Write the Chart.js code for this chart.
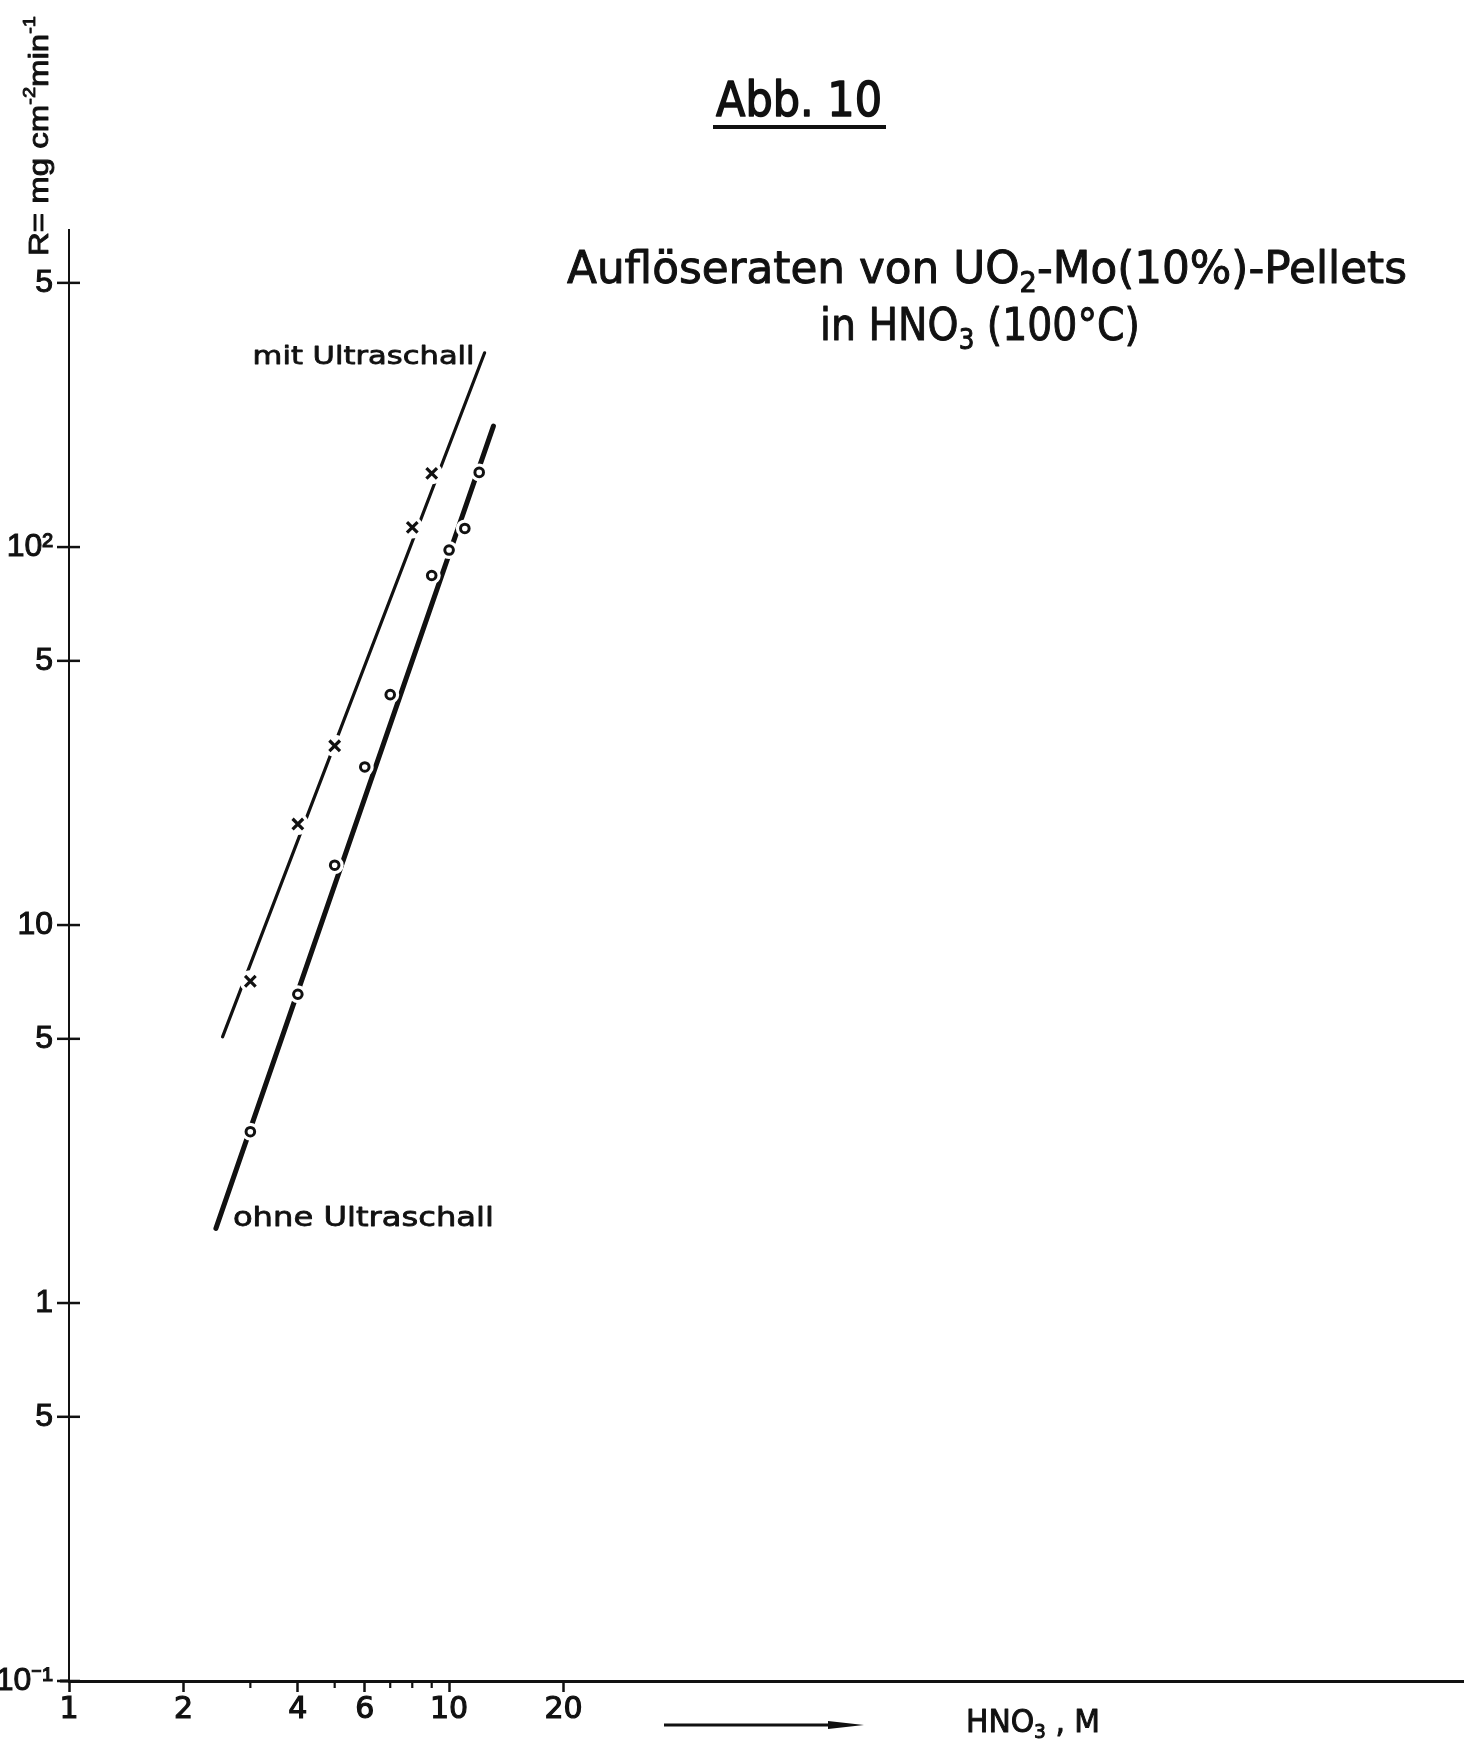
<!DOCTYPE html>
<html>
<head>
<meta charset="utf-8">
<script src="https://cdn.jsdelivr.net/npm/chart.js@4.4.1/dist/chart.umd.min.js"></script>
<style>
  html, body { margin: 0; padding: 0; background: #fff; }
  #wrap { width: 1474px; height: 1740px; position: relative; }
</style>
</head>
<body>
<div id="wrap"><canvas id="c"></canvas></div>
<script>
// Dissolution rate R (mg cm^-2 min^-1) against HNO3 concentration (M)
const mitX = [3, 4, 5, 8, 9];
const mitR = [7.1, 18.5, 29.8, 112.7, 156.7];
const ohneX = [3, 4, 5, 6, 7, 9, 10, 11, 12];
const ohneR = [2.84, 6.56, 14.4, 26.2, 40.7, 84.1, 98.2, 112, 157.6];

// straight fit lines on log-log paper: start and end point
const mitFitX = [2.535, 12.4];
const mitFitR = [5.06, 326.6];
const ohneFitX = [2.435, 13.08];
const ohneFitR = [1.576, 208.9];

// axis ticks
const xTickValues = [1, 2, 4, 6, 10, 20];
const xTickLabels = ['1', '2', '4', '6', '10', '20'];
const xMinorTicks = [3, 5, 7, 8, 9];
const yTickValues = [0.1, 0.5, 1, 5, 10, 50, 100, 500];
const yTickLabels = ['10⁻¹', '5', '1', '5', '10', '5', '10²', '5'];

// texts
const figTitle = 'Abb. 10';
const subLine1 = [['Auflöseraten von UO', 0], ['2', -1], ['-Mo(10%)-Pellets', 0]];
const subLine2 = [['in HNO', 0], ['3', -1], [' (100°C)', 0]];
const yTitle = [['R= mg cm', 0], ['-2', 1], ['min', 0], ['-1', 1]];
const xTitle = [['HNO', 0], ['3', -1], [' , M', 0]];
const mitLabel = 'mit Ultraschall';
const ohneLabel = 'ohne Ultraschall';

const INK = '#111';
const pts = (xs, ys) => xs.map((x, i) => ({ x: x, y: ys[i] }));

// draws a run of text pieces (normal / superscript / subscript), squeezed to a given width
function drawParts(ctx, parts, x, y, o) {
  const size = o.size, fam = o.family, weight = o.weight || 'normal';
  const fontFor = k => `${weight} ${k ? Math.round(size * 0.62) : size}px ${fam}`;
  let natural = 0;
  parts.forEach(([t, k]) => { ctx.font = fontFor(k); natural += ctx.measureText(t).width; });
  const sx = o.width ? o.width / natural : 1;
  const total = natural * sx;
  const x0 = o.align === 'center' ? x - total / 2 : o.align === 'right' ? x - total : x;
  ctx.save();
  ctx.translate(x0, y);
  ctx.scale(sx, 1);
  ctx.textBaseline = 'alphabetic';
  ctx.textAlign = 'left';
  ctx.fillStyle = INK;
  ctx.strokeStyle = INK;
  ctx.lineJoin = 'round';
  ctx.lineWidth = o.stroke || 0;
  let cx = 0;
  parts.forEach(([t, k]) => {
    ctx.font = fontFor(k);
    const dy = k === 1 ? -size * 0.45 : k === -1 ? size * 0.2 : 0;
    ctx.fillText(t, cx, dy);
    if (o.stroke) ctx.strokeText(t, cx, dy);
    cx += ctx.measureText(t).width;
  });
  ctx.restore();
}

const decor = {
  id: 'decor',
  afterDraw(chart) {
    const ctx = chart.ctx;
    const xs = chart.scales.x, ys = chart.scales.y;
    const area = chart.chartArea;
    ctx.save();
    ctx.strokeStyle = INK;
    ctx.lineCap = 'butt';

    // y ticks crossing the axis
    ctx.lineWidth = 2.5;
    yTickValues.forEach(v => {
      const py = ys.getPixelForValue(v);
      ctx.beginPath();
      ctx.moveTo(area.left - 12, py);
      ctx.lineTo(area.left + 11, py);
      ctx.stroke();
    });
    // short minor ticks on the x axis
    ctx.lineWidth = 2.2;
    xMinorTicks.forEach(v => {
      const px = xs.getPixelForValue(v);
      ctx.beginPath();
      ctx.moveTo(px, area.bottom);
      ctx.lineTo(px, area.bottom + 7);
      ctx.stroke();
    });
    // x axis runs a little past the y axis
    ctx.lineWidth = 3;
    ctx.beginPath();
    ctx.moveTo(area.left - 9, area.bottom);
    ctx.lineTo(area.left, area.bottom);
    ctx.stroke();

    // figure title with underline
    drawParts(ctx, [[figTitle, 0]], 799, 116, { size: 48, family: "'DejaVu Sans'", width: 166, align: 'center', stroke: 1.6 });
    ctx.lineWidth = 4;
    ctx.beginPath();
    ctx.moveTo(713, 127);
    ctx.lineTo(886, 127);
    ctx.stroke();

    // caption
    drawParts(ctx, subLine1, 987, 283, { size: 45, family: "'DejaVu Sans'", width: 840, align: 'center', stroke: 1 });
    drawParts(ctx, subLine2, 980, 340, { size: 45, family: "'DejaVu Sans'", width: 320, align: 'center', stroke: 1 });

    // y axis title, reading upwards
    ctx.save();
    ctx.translate(48, 256);
    ctx.rotate(-Math.PI / 2);
    drawParts(ctx, yTitle, 0, 0, { size: 28, family: "'Liberation Sans', Arial", width: 240, align: 'left', stroke: 0.9 });
    ctx.restore();

    // series labels next to the ends of the fitted lines
    const mitEnd = { x: xs.getPixelForValue(mitFitX[1]), y: ys.getPixelForValue(mitFitR[1]) };
    drawParts(ctx, [[mitLabel, 0]], mitEnd.x - 10, mitEnd.y + 11, { size: 25, family: "'DejaVu Sans'", width: 222, align: 'right', stroke: 0.8 });
    const ohneStart = { x: xs.getPixelForValue(ohneFitX[0]), y: ys.getPixelForValue(ohneFitR[0]) };
    drawParts(ctx, [[ohneLabel, 0]], ohneStart.x + 17, ohneStart.y - 2, { size: 27, family: "'DejaVu Sans'", width: 261, align: 'left', stroke: 0.8 });

    // x axis caption with arrow
    ctx.lineWidth = 3;
    ctx.beginPath();
    ctx.moveTo(664, 1725);
    ctx.lineTo(836, 1725);
    ctx.stroke();
    ctx.fillStyle = INK;
    ctx.beginPath();
    ctx.moveTo(828, 1721);
    ctx.lineTo(864, 1725);
    ctx.lineTo(828, 1729);
    ctx.closePath();
    ctx.fill();
    drawParts(ctx, xTitle, 966, 1732, { size: 32, family: "'DejaVu Sans'", width: 134, align: 'left', stroke: 1 });

    ctx.restore();
  }
};

new Chart(document.getElementById('c'), {
  type: 'line',
  data: {
    datasets: [
      { data: pts(mitFitX, mitFitR), borderColor: INK, borderWidth: 3.2, pointRadius: 0, borderCapStyle: 'round', order: 5 },
      { data: pts(ohneFitX, ohneFitR), borderColor: INK, borderWidth: 5, pointRadius: 0, borderCapStyle: 'round', order: 5 },
      // white halos break the lines around each measured point
      { data: pts(mitX, mitR), showLine: false, pointRadius: 11, pointBackgroundColor: '#fff', pointBorderWidth: 0, pointBorderColor: '#fff', order: 3 },
      { data: pts(ohneX, ohneR), showLine: false, pointRadius: 9, pointBackgroundColor: '#fff', pointBorderWidth: 0, pointBorderColor: '#fff', order: 3 },
      { data: pts(mitX, mitR), showLine: false, pointStyle: 'crossRot', pointRadius: 7.5, pointBorderWidth: 3.2, pointBorderColor: INK, order: 1 },
      { data: pts(ohneX, ohneR), showLine: false, pointStyle: 'circle', pointRadius: 4.3, pointBorderWidth: 3, pointBorderColor: INK, pointBackgroundColor: '#fff', order: 1 }
    ]
  },
  options: {
    responsive: true,
    maintainAspectRatio: false,
    animation: false,
    events: [],
    layout: { padding: { top: 230, right: 0, left: 0, bottom: 0 } },
    plugins: { legend: { display: false }, tooltip: { enabled: false }, title: { display: false } },
    scales: {
      x: {
        type: 'logarithmic',
        min: 1,
        max: 4650,
        afterBuildTicks: s => { s.ticks = xTickValues.map(v => ({ value: v })); },
        afterFit: s => { s.height = 59; },
        grid: { drawOnChartArea: false, drawTicks: true, tickLength: 11, tickColor: INK, tickWidth: 2.5 },
        border: { display: true, color: INK, width: 3 },
        ticks: {
          autoSkip: false, maxRotation: 0, padding: 0,
          color: INK,
          font: { family: "'DejaVu Sans'", size: 30, lineHeight: 1.2 },
          textStrokeColor: INK, textStrokeWidth: 1.2,
          callback: (v, i) => xTickLabels[i]
        }
      },
      y: {
        type: 'logarithmic',
        min: 0.1,
        max: 690,
        afterBuildTicks: s => { s.ticks = yTickValues.map(v => ({ value: v })); },
        afterFit: s => { s.width = 69; },
        grid: { drawOnChartArea: false, drawTicks: false },
        border: { display: true, color: INK, width: 2 },
        ticks: {
          autoSkip: false, padding: 16,
          color: INK,
          font: { family: "'Liberation Sans', Arial", size: 32 },
          textStrokeColor: INK, textStrokeWidth: 1,
          callback: (v, i) => yTickLabels[i]
        }
      }
    }
  },
  plugins: [decor]
});
</script>
</body>
</html>
